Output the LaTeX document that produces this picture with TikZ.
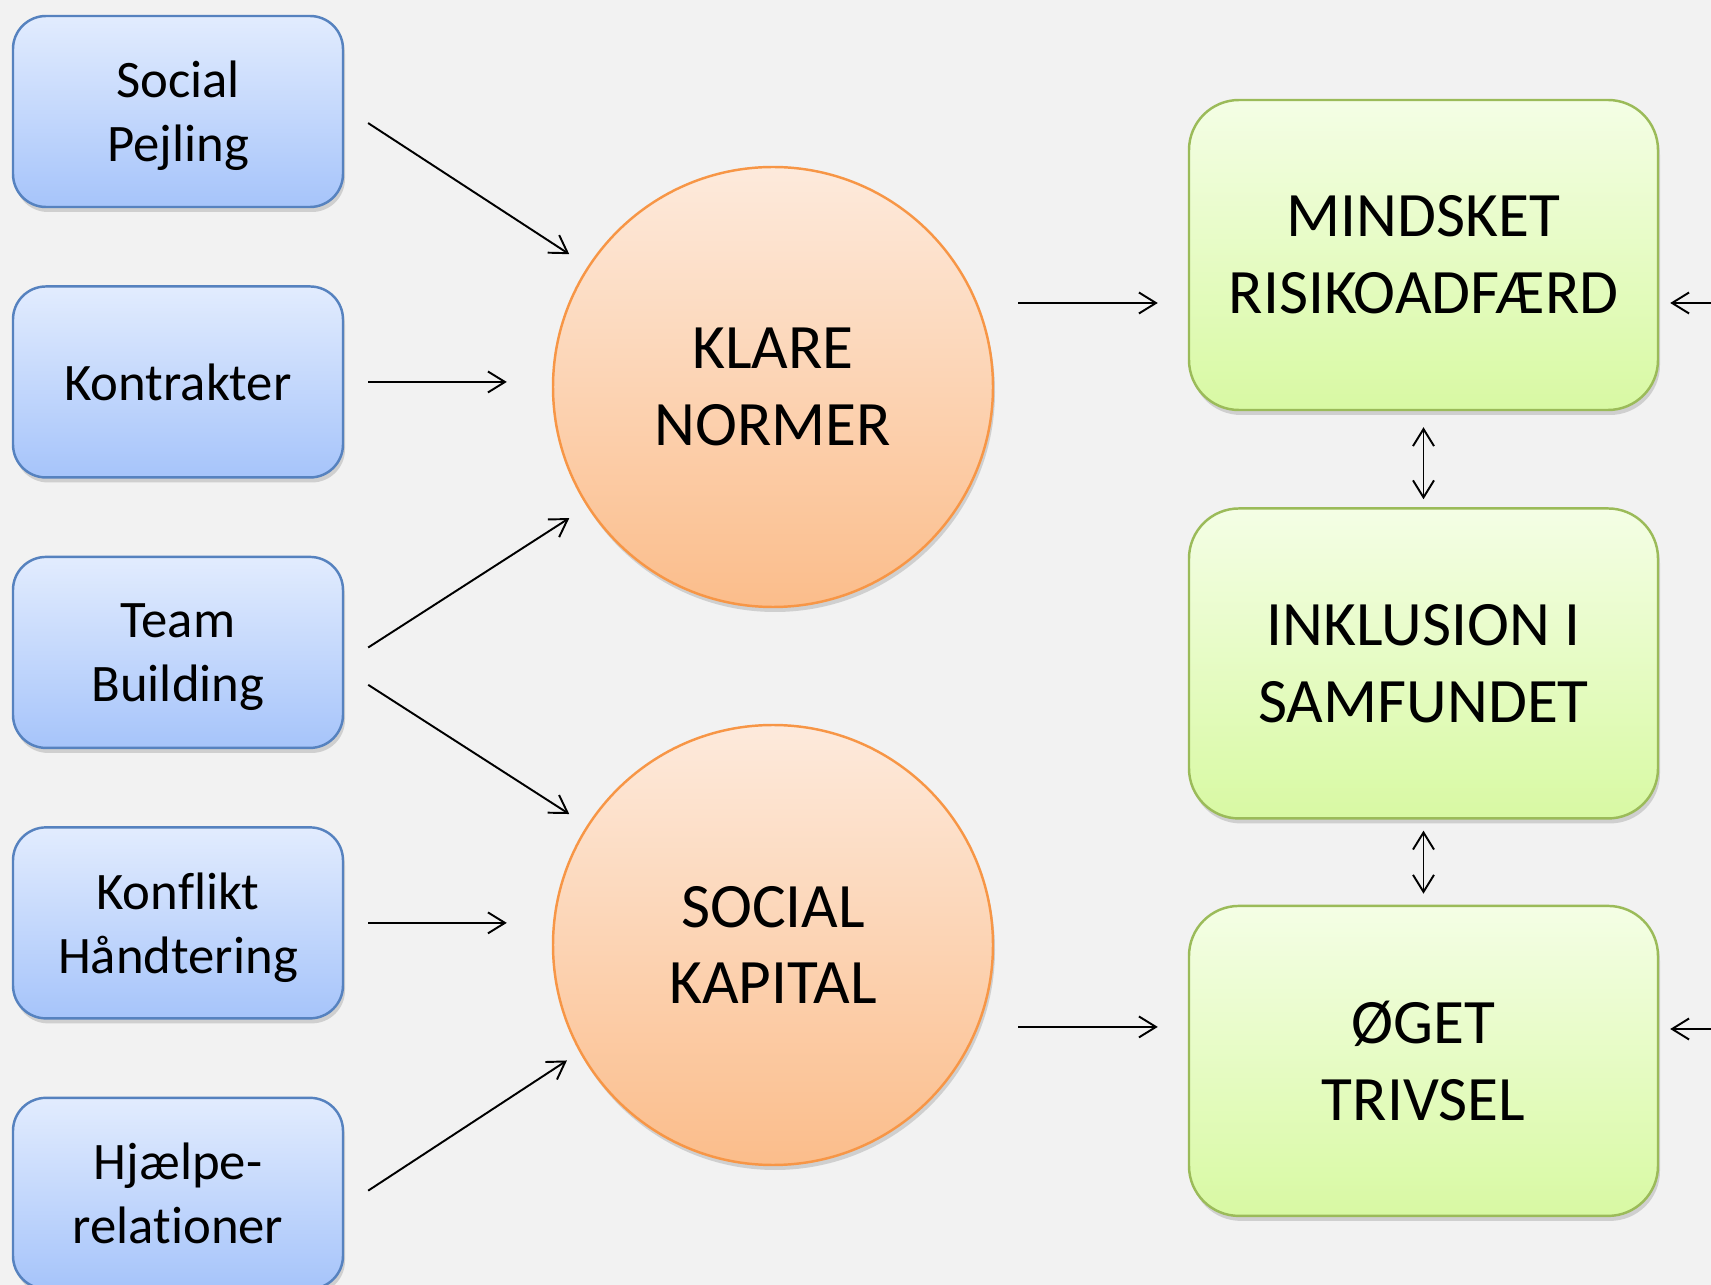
\documentclass[tikz,border=0pt]{standalone}
\usepackage{fontspec}
\setmainfont{Carlito}[Ligatures=NoCommon]
\usepackage{xcolor}
\usepackage{tikz}
\usetikzlibrary{arrows.meta,positioning,shadows,shapes}

\definecolor{baggrund}{HTML}{F2F2F2}
\definecolor{blaatop}{HTML}{E2ECFE}
\definecolor{blaabund}{HTML}{A6C4FA}
\definecolor{blaakant}{HTML}{5682BF}
\definecolor{orangetop}{HTML}{FDEADC}
\definecolor{orangebund}{HTML}{FBBD8B}
\definecolor{orangekant}{HTML}{F79646}
\definecolor{groentop}{HTML}{F4FEE5}
\definecolor{groenbund}{HTML}{D8F9A3}
\definecolor{groenkant}{HTML}{9BBB59}

\begin{document}
\begin{tikzpicture}[
        >={Straight Barb[length=1.7mm,width=2.1mm]},
        pil/.style={line width=0.55pt},
        skygge/.style={drop shadow={opacity=0.3, shadow xshift=0.02cm, shadow yshift=-0.05cm}},
        tiltag/.style={draw=blaakant, line width=0.7pt, rounded corners=0.33cm,
                top color=blaatop, bottom color=blaabund, skygge,
                minimum width=3.3cm, minimum height=1.91cm, align=center,
                text depth=0pt, font=\fontsize{15}{18.2}\selectfont},
        norm/.style={circle, draw=orangekant, line width=0.7pt,
                top color=orangetop, bottom color=orangebund, skygge,
                minimum size=4.4cm, inner sep=0pt, align=center,
                font=\fontsize{18}{21.8}\selectfont},
        maal/.style={draw=groenkant, line width=0.7pt, rounded corners=0.5cm,
                top color=groentop, bottom color=groenbund, skygge,
                minimum width=4.69cm, minimum height=3.1cm, align=center,
                font=\fontsize{18}{21.8}\selectfont}
    ]
                \fill[baggrund] (0,0) rectangle (17.11,-12.85);
                \useasboundingbox (0,0) rectangle (17.11,-12.85);

                \node [tiltag] (pejling) at (1.78,-1.115) {Social\\Pejling};
                \node [tiltag, below = 0.77cm of pejling] (kontrakt) {Kontrakter};
                \node [tiltag, below = 0.77cm of kontrakt] (team) {Team\\Building};
                \node [tiltag, below = 0.77cm of team] (konflikt) {Konflikt\\Håndtering};
                \node [tiltag, below = 0.77cm of konflikt] (hjaelp) {Hjælpe-\\relationer};

                \node [norm] (normer) at (7.73,-3.87) {KLARE\\NORMER};
                \node [norm] (kapital) at (7.73,-9.45) {SOCIAL\\KAPITAL};

                \node [maal] (risiko) at (14.235,-2.55) {MINDSKET\\RISIKOADFÆRD};
                \node [maal, below = 0.96cm of risiko] (inklusion) {INKLUSION I\\SAMFUNDET};
                \node [maal, below = 0.85cm of inklusion] (trivsel) {ØGET\\TRIVSEL};

                \coordinate (risikoind) at ([yshift=-0.48cm]risiko.west);
                \coordinate (trivselind) at ([yshift=0.34cm]trivsel.west);
                \coordinate (hoejre1) at (17.5,-3.03);
                \coordinate (hoejre2) at (17.5,-10.29);

                \draw[pil,->, shorten <=0.285cm, shorten >=0.22cm]
                        ([yshift=0.04cm]pejling.east) -- (normer);
                \draw[pil,->, shorten <=0.24cm, shorten >=0.45cm]
                        (kontrakt.east) -- (kontrakt.east -| normer.west);
                \draw[pil,->, shorten <=0.285cm, shorten >=0.21cm]
                        ([yshift=-0.105cm]team.east) -- (normer);
                \draw[pil,->, shorten <=0.285cm, shorten >=0.21cm]
                        ([yshift=-0.17cm]team.east) -- (kapital);
                \draw[pil,->, shorten <=0.24cm, shorten >=0.45cm]
                        (konflikt.east) -- (konflikt.east -| kapital.west);
                \draw[pil,->, shorten <=0.286cm, shorten >=0.15cm]
                        ([yshift=-0.13cm]hjaelp.east) -- (kapital.209);

                \draw[pil,->, shorten <=0.24cm, shorten >=0.3cm]
                        (normer.east |- risikoind) -- (risikoind);
                \draw[pil,->, shorten <=0.24cm, shorten >=0.3cm]
                        (kapital.east |- trivselind) -- (trivselind);
                \draw[pil,->, shorten >=0.11cm] (hoejre1) -- (risiko.east |- hoejre1);
                \draw[pil,->, shorten >=0.11cm] (hoejre2) -- (trivsel.east |- hoejre2);

                \draw[pil,<->, shorten <=0.16cm, shorten >=0.08cm] (risiko) -- (inklusion);
                \draw[pil,<->, shorten <=0.11cm, shorten >=0.11cm] (inklusion) -- (trivsel);
\end{tikzpicture}
\end{document}
